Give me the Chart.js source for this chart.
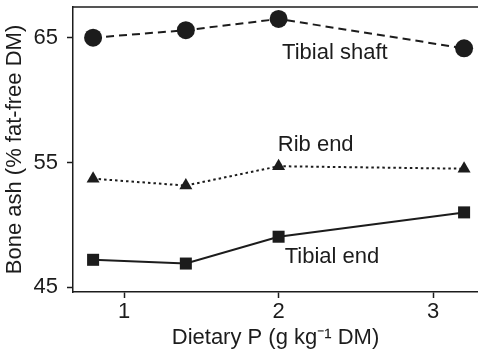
<!DOCTYPE html>
<html>
<head>
<meta charset="utf-8">
<script src="https://cdn.jsdelivr.net/npm/chart.js@4"></script>
<style>
  html, body { margin: 0; padding: 0; background: #fff; }
  #wrap { width: 478px; height: 352px; }
</style>
</head>
<body>
<div id="wrap"><canvas id="boneChart" width="478" height="352"></canvas></div>
<script>
    // data
    const dietaryP = [0.8, 1.4, 2.0, 3.2];
    const tibialShaft = [65.0, 65.6, 66.5, 64.15];
    const ribEnd = [53.7, 53.15, 54.7, 54.5];
    const tibialEnd = [47.2, 46.9, 49.05, 51.0];
    const xTicks = [1, 2, 3];
    const yTicks = [45, 55, 65];
    // series labels drawn inside the plot: [text, x, y]
    const seriesLabels = [
        ['Tibial shaft', 2.364, 63.8],
        ['Rib end', 2.24, 56.4],
        ['Tibial end', 2.345, 47.45]
    ];

    const ink = '#1c1c1c';
    const fontFamily = '"Liberation Sans", Arial, Helvetica, sans-serif';
    const fontSize = 22;

    function pts(ys) {
        return dietaryP.map(function (x, i) { return { x: x, y: ys[i] }; });
    }

    // top border and in-plot labels
    const decorations = {
        id: 'decorations',
        afterDraw: function (chart) {
            const ctx = chart.ctx;
            const area = chart.chartArea;
            const xs = chart.scales.x, ys = chart.scales.y;
            ctx.save();
            ctx.strokeStyle = ink;
            ctx.lineWidth = 1.5;
            ctx.beginPath();
            ctx.moveTo(area.left, area.top);
            ctx.lineTo(area.right + 2, area.top);
            ctx.stroke();
            ctx.fillStyle = ink;
            ctx.font = fontSize + 'px ' + fontFamily;
            ctx.textAlign = 'center';
            ctx.textBaseline = 'middle';
            seriesLabels.forEach(function (l) {
                ctx.fillText(l[0], xs.getPixelForValue(l[1]), ys.getPixelForValue(l[2]));
            });
            ctx.restore();
        }
    };

    new Chart(document.getElementById('boneChart'), {
        type: 'line',
        data: {
            datasets: [{
                label: 'Tibial shaft',
                data: pts(tibialShaft),
                borderColor: ink,
                backgroundColor: ink,
                borderWidth: 2,
                borderDash: [8, 5],
                pointStyle: 'circle',
                pointRadius: 9,
                pointBorderWidth: 0
            }, {
                label: 'Rib end',
                data: pts(ribEnd),
                borderColor: ink,
                backgroundColor: ink,
                borderWidth: 2,
                borderDash: [2.5, 3],
                pointStyle: 'triangle',
                pointRadius: 7.5,
                pointBorderWidth: 0
            }, {
                label: 'Tibial end',
                data: pts(tibialEnd),
                borderColor: ink,
                backgroundColor: ink,
                borderWidth: 2,
                pointStyle: 'rect',
                pointRadius: 8.5,
                pointBorderWidth: 0
            }]
        },
        options: {
            responsive: false,
            animation: false,
            layout: { autoPadding: false, padding: { top: 7, right: 0, left: 0, bottom: 0 } },
            plugins: {
                legend: { display: false },
                tooltip: { enabled: false }
            },
            scales: {
                x: {
                    type: 'linear',
                    min: 0.67,
                    max: 3.29,
                    afterBuildTicks: function (axis) {
                        axis.ticks = xTicks.map(function (v) { return { value: v }; });
                    },
                    afterFit: function (axis) {
                        axis.height = 60;
                        axis.paddingLeft = 0;
                        axis.paddingRight = 0;
                    },
                    grid: {
                        drawOnChartArea: false,
                        drawTicks: true,
                        tickLength: 6,
                        tickWidth: 1.5,
                        tickColor: ink
                    },
                    border: { color: ink, width: 1.5 },
                    ticks: {
                        color: ink,
                        padding: 1,
                        font: { family: fontFamily, size: fontSize }
                    },
                    title: {
                        display: true,
                        text: 'Dietary P (g kg\u207B\u00B9 DM)',
                        color: ink,
                        font: { family: fontFamily, size: fontSize },
                        padding: { top: 0, bottom: 1 }
                    }
                },
                y: {
                    type: 'linear',
                    min: 44.62,
                    max: 67.46,
                    afterBuildTicks: function (axis) {
                        axis.ticks = yTicks.map(function (v) { return { value: v }; });
                    },
                    afterFit: function (axis) {
                        axis.width = 73;
                        axis.paddingTop = 0;
                        axis.paddingBottom = 0;
                    },
                    grid: {
                        drawOnChartArea: false,
                        drawTicks: true,
                        tickLength: 6,
                        tickWidth: 1.5,
                        tickColor: ink
                    },
                    border: { color: ink, width: 1.5 },
                    ticks: {
                        color: ink,
                        padding: 9,
                        font: { family: fontFamily, size: fontSize }
                    },
                    title: {
                        display: true,
                        text: 'Bone ash (% fat-free DM)',
                        color: ink,
                        font: { family: fontFamily, size: fontSize },
                        padding: { top: 2, bottom: 0 }
                    }
                }
            }
        },
        plugins: [decorations]
    });
</script>
</body>
</html>
